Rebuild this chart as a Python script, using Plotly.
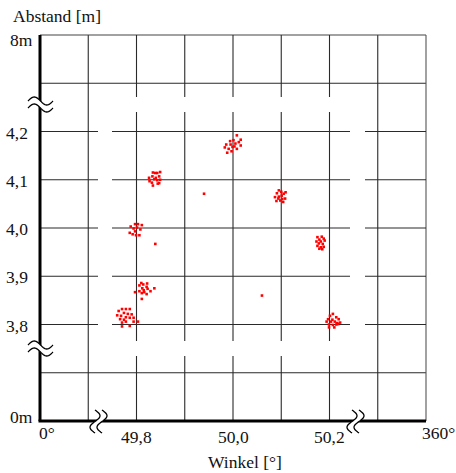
import math
import plotly.graph_objects as go

# ---------------- data (angle in degrees, distance in m) ----------------
c1_angle = [49.834, 49.839, 49.843, 49.849, 49.826, 49.833, 49.840, 49.847, 49.849, 49.827,
            49.832, 49.837, 49.843, 49.844, 49.834, 49.847]
c1_dist = [4.115, 4.114, 4.114, 4.116, 4.104, 4.107, 4.104, 4.107, 4.100, 4.097,
           4.094, 4.101, 4.099, 4.092, 4.088, 4.093]

c2_angle = [50.008, 50.016, 49.994, 50.001, 50.012, 49.986, 49.995, 50.005, 50.016, 49.983,
            49.991, 49.999, 50.008, 49.997, 49.988, 50.003]
c2_dist = [4.192, 4.183, 4.180, 4.182, 4.178, 4.173, 4.173, 4.175, 4.171, 4.167,
           4.164, 4.168, 4.164, 4.159, 4.156, 4.169]

c3_angle = [49.797, 49.803, 49.811, 49.788, 49.794, 49.801, 49.808, 49.786, 49.792, 49.799,
            49.806, 49.797]
c3_dist = [4.008, 4.008, 4.006, 4.003, 3.999, 4.001, 3.997, 3.990, 3.987, 3.985,
           3.985, 3.993]

c5_angle = [49.810, 49.814, 49.822, 49.806, 49.821, 49.812, 49.823, 49.797, 49.806, 49.811,
            49.816, 49.821, 49.829, 49.837, 49.811, 49.815]
c5_dist = [3.886, 3.883, 3.885, 3.881, 3.878, 3.875, 3.874, 3.867, 3.869, 3.865,
           3.867, 3.863, 3.869, 3.875, 3.853, 3.871]

c6_angle = [49.770, 49.778, 49.786, 49.763, 49.774, 49.782, 49.790, 49.760, 49.768, 49.778,
            49.786, 49.794, 49.766, 49.774, 49.770, 49.778, 49.794, 49.803, 49.786, 49.770]
c6_dist = [3.832, 3.832, 3.832, 3.828, 3.824, 3.822, 3.821, 3.819, 3.818, 3.815,
           3.814, 3.814, 3.811, 3.810, 3.804, 3.806, 3.806, 3.806, 3.797, 3.796]

c8_angle = [50.095, 50.100, 50.091, 50.105, 50.109, 50.087, 50.095, 50.101, 50.108, 50.090,
            50.098, 50.102, 50.094, 50.104]
c8_dist = [4.078, 4.075, 4.072, 4.071, 4.074, 4.064, 4.065, 4.067, 4.061, 4.056,
           4.057, 4.060, 4.061, 4.054]

c9_angle = [50.175, 50.184, 50.188, 50.179, 50.173, 50.182, 50.190, 50.178, 50.186, 50.175,
            50.182, 50.188, 50.185, 50.179]
c9_dist = [3.981, 3.982, 3.978, 3.976, 3.972, 3.972, 3.974, 3.968, 3.967, 3.963,
           3.960, 3.961, 3.956, 3.957]

c10_angle = [50.207, 50.201, 50.214, 50.197, 50.206, 50.219, 50.194, 50.203, 50.211, 50.216,
             50.222, 50.199, 50.207, 50.214, 50.199, 50.210, 50.218]
c10_dist = [3.822, 3.818, 3.815, 3.811, 3.810, 3.811, 3.806, 3.806, 3.806, 3.803,
            3.804, 3.800, 3.799, 3.800, 3.794, 3.794, 3.801]

single_angle = [49.940, 49.839, 50.060]
single_dist = [4.071, 3.967, 3.860]

x_tick_vals = [49.6, 49.8, 50.0, 50.2, 50.4]
x_tick_text = ["0°", "49,8", "50,0", "50,2", "360°"]
y_tick_vals = [4.4, 4.2, 4.1, 4.0, 3.9, 3.8, 3.6]
y_tick_text = ["8m", "4,2", "4,1", "4,0", "3,9", "3,8", "0m"]

angles = c1_angle + c2_angle + c3_angle + c5_angle + c6_angle + c8_angle + c9_angle + c10_angle + single_angle
dists = c1_dist + c2_dist + c3_dist + c5_dist + c6_dist + c8_dist + c9_dist + c10_dist + single_dist

# ---------------- geometry helpers ----------------
W, H = 456, 473
L, R, T, B = 40, 30, 35, 52
XMIN, XMAX, YMIN, YMAX = 49.6, 50.4, 3.6, 4.4
PW, PH = W - L - R, H - T - B


def px_(x):            # pixel -> paper x
    return (x - L) / PW


def py_(y):            # pixel -> paper y
    return 1 - (y - T) / PH


def vx(v):             # axis value -> paper x
    return (v - XMIN) / (XMAX - XMIN)


def vy(v):
    return (v - YMIN) / (YMAX - YMIN)


FONT = "Liberation Serif"
GRID = "#2a2a2a"
shapes = []


def line(x0, y0, x1, y1, w=1.1, c=GRID):
    shapes.append(dict(type="line", xref="paper", yref="paper", x0=x0, y0=y0, x1=x1, y1=y1,
                       line=dict(color=c, width=w), layer="below"))


# outer grid lines (full length)
for xv in [49.7, 50.3]:
    line(vx(xv), 0, vx(xv), 1)
for yv in [3.7, 4.3]:
    line(0, vy(yv), 1, vy(yv))
line(0, 1, 1, 1, c="#444")
line(1, 0, 1, 1, c="#555")

# inner grid lines with break gaps
gx = [(0, px_(98)), (px_(112), px_(350)), (px_(365), 1)]
gy = [(0, py_(356)), (py_(341), py_(112)), (py_(97), 1)]
for yv in [3.8, 3.9, 4.0, 4.1, 4.2]:
    for a, b in gx:
        line(a, vy(yv), b, vy(yv))
for xv in [49.8, 49.9, 50.0, 50.1, 50.2]:
    for a, b in gy:
        line(vx(xv), a, vx(xv), b)

# thick axes
line(0, 0, 0, 1, w=3, c="black")
line(-1.5 / PW, 0, 1, 0, w=3, c="black")


def path_from(pts, close=False):
    s = "M " + " L ".join(f"{px_(p[0]):.5f},{py_(p[1]):.5f}" for p in pts)
    return s + (" Z" if close else "")


def add_path(pts, fill=None, w=1.3):
    d = dict(type="path", xref="paper", yref="paper", path=path_from(pts, close=fill is not None),
             line=dict(color="black" if fill is None else "rgba(0,0,0,0)", width=w if fill is None else 0),
             layer="above")
    if fill is not None:
        d["fillcolor"] = fill
    shapes.append(d)


N = 28


def tilde(x0, yc, w=25, a=4.0):
    return [(x0 + w * i / N, yc - a * math.sin(2 * math.pi * i / N)) for i in range(N + 1)]


def ess(xc, y0, h=23, a=5.0):
    return [(xc + a * math.sin(2 * math.pi * i / N), y0 + h * i / N) for i in range(N + 1)]


# left axis breaks
for yc in [104.5, 348.5]:
    up = tilde(28, yc - 3.5)
    lo = tilde(28, yc + 3.5)
    add_path(up + lo[::-1], fill="white")
    add_path(up)
    add_path(lo)

# bottom axis breaks
for xc in [98.5, 355.5]:
    lft = ess(xc - 3.5, 410)
    rgt = ess(xc + 3.5, 410)
    add_path(lft + rgt[::-1], fill="white")
    add_path(lft)
    add_path(rgt)

# ---------------- annotations (tick labels, titles) ----------------
ann = []


def text(x, y, t, xa="center"):
    ann.append(dict(x=x, y=y, xref="paper", yref="paper", text=t, showarrow=False,
                    xanchor=xa, yanchor="middle"))


for v, t in zip(x_tick_vals, x_tick_text):
    if t == "0°":
        text(px_(37), py_(433), t, "left")
    elif t == "360°":
        text(px_(420), py_(433), t, "left")
    else:
        text(vx(v), py_(437), t)
for v, t in zip(y_tick_vals, y_tick_text):
    if t == "8m":
        text(px_(35), py_(40), t, "right")
    elif t == "0m":
        text(px_(35), py_(417), t, "right")
    else:
        text(px_(30), vy(v) - 1 / PH, t, "right")
text(px_(11), py_(16), "Abstand [m]", "left")
text(px_(245), py_(462), "Winkel [°]")

fig = go.Figure()
fig.add_trace(go.Scatter(x=angles, y=dists, mode="markers",
                         marker=dict(symbol="square", size=2.6, color="#ff0000", line=dict(width=0)),
                         hoverinfo="x+y", showlegend=False, cliponaxis=False))

fig.update_layout(
    width=W, height=H,
    margin=dict(l=L, r=R, t=T, b=B, pad=0),
    paper_bgcolor="white", plot_bgcolor="white",
    font=dict(family=FONT, size=17.5, color="#111111"),
    shapes=shapes, annotations=ann, showlegend=False,
    xaxis=dict(range=[XMIN, XMAX], showgrid=False, zeroline=False, showticklabels=False,
               showline=False, ticks="", fixedrange=True),
    yaxis=dict(range=[YMIN, YMAX], showgrid=False, zeroline=False, showticklabels=False,
               showline=False, ticks="", fixedrange=True),
)

fig.write_html("out.html", config={"displayModeBar": False},
               post_script="document.body.style.margin='0';document.body.style.overflow='hidden';")
